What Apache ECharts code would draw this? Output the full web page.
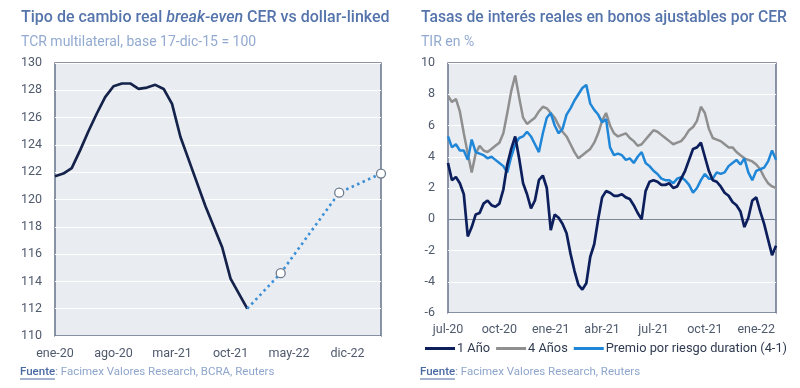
<!DOCTYPE html>
<html><head><meta charset="utf-8">
<script src="https://cdn.jsdelivr.net/npm/echarts@6/dist/echarts.min.js"></script>
<style>html,body{margin:0;padding:0;background:#fff}#c{width:800px;height:388px}</style>
</head><body><div id="c"></div><script>
// ---- Left chart: TCR break-even ----
const tcrMonths = ['ene-20','feb-20','mar-20','abr-20','may-20','jun-20','jul-20','ago-20','sep-20','oct-20','nov-20','dic-20',
  'ene-21','feb-21','mar-21','abr-21','may-21','jun-21','jul-21','ago-21','sep-21','oct-21','nov-21','dic-21',
  'ene-22','feb-22','mar-22','abr-22','may-22','jun-22','jul-22','ago-22','sep-22','oct-22','nov-22','dic-22',
  'ene-23','feb-23','mar-23','abr-23'];
const tcrHistory = [121.7,121.9,122.3,123.6,125.0,126.3,127.5,128.3,128.5,128.5,128.1,128.2,
  128.4,128.1,127.0,124.6,122.9,121.2,119.5,118.0,116.5,114.2,113.1,112.0];
const forecastMonths = ['dic-21','abr-22','nov-22','abr-23'];
const forecastValues = [112.0, 114.6, 120.5, 121.9];
const tcrTicks = [110,130,2];

// ---- Right chart: real rates (weekly) ----
const rateStart = '2020-06-29';
const oneYear = [3.6,2.5,2.7,2.3,1.6,-1.1,-0.5,0.3,0.4,1.0,1.2,0.9,0.8,1.0,1.9,3.5,4.5,5.3,3.9,2.3,
  1.6,0.7,1.2,2.5,2.8,2.0,-0.7,0.3,0.1,-0.3,-0.9,-2.2,-3.3,-4.2,-4.5,-4.1,-2.4,-1.6,0.0,1.4,1.8,
  1.7,1.5,1.5,1.6,1.4,1.3,0.9,0.4,0.0,1.8,2.4,2.5,2.4,2.2,2.2,2.3,2.0,2.1,2.6,3.1,3.8,
  4.5,4.6,4.9,4.0,3.1,2.5,2.4,2.1,1.7,1.5,1.1,0.9,0.5,-0.5,0.1,1.2,1.4,0.5,-0.3,-1.3,-2.3,-1.7];
const fourYear = [7.9,7.5,7.7,6.9,5.5,4.2,3.0,4.2,4.7,4.4,4.3,4.5,4.7,4.9,5.5,6.8,8.2,9.2,7.8,6.5,
  6.1,6.3,6.5,6.9,7.2,7.1,6.8,6.5,6.0,5.6,5.3,4.8,4.3,3.9,4.1,4.3,4.5,4.9,5.5,6.3,6.8,
  6.0,5.5,5.3,5.4,5.5,5.2,5.0,4.7,4.8,5.1,5.4,5.7,5.6,5.4,5.2,5.0,4.8,4.9,5.0,5.3,5.7,
  5.9,6.3,7.2,6.8,5.8,5.2,5.1,5.0,4.8,4.6,4.6,4.3,4.1,3.9,3.8,3.7,3.5,3.2,2.7,2.3,2.1,2.0];
const premium = [5.3,4.6,4.8,4.4,4.4,3.8,5.1,4.3,4.2,4.1,3.9,4.0,3.8,3.6,3.4,3.0,4.0,4.8,5.2,5.3,
  5.6,5.3,4.8,4.3,5.5,6.5,6.8,6.0,5.5,5.8,6.7,7.1,7.6,8.0,8.4,8.6,7.4,7.0,6.7,6.2,6.4,
  4.6,4.1,4.2,4.1,3.8,3.9,3.6,4.0,4.3,3.6,3.4,3.1,2.9,2.6,2.5,2.5,2.3,2.6,2.7,2.5,2.2,
  1.7,2.0,2.5,2.9,2.6,2.6,3.0,2.9,3.0,3.4,3.6,3.8,3.5,3.9,3.0,2.5,3.1,3.2,3.3,3.7,4.4,3.8];
const seriesNames = ['1 Año','4 Años','Premio por riesgo duration (4-1)'];
const rateTicks = [-6,10,2];
const monthAbbr = ['ene','feb','mar','abr','may','jun','jul','ago','sep','oct','nov','dic'];

// weekly category dates
const rateDates = [];
{
  const d0 = new Date(rateStart + 'T00:00:00Z');
  for (let i = 0; i < oneYear.length; i++) {
    const d = new Date(d0.getTime() + i * 7 * 86400000);
    rateDates.push(d.toISOString().slice(0,10));
  }
}
function quarterLabel(dateStr) {
  const d = new Date(dateStr + 'T00:00:00Z');
  for (let k = 0; k < 7; k++) {
    const e = new Date(d.getTime() + k * 86400000);
    if (e.getUTCDate() === 1 && e.getUTCMonth() % 3 === 0) {
      return monthAbbr[e.getUTCMonth()] + '-' + String(e.getUTCFullYear()).slice(2);
    }
  }
  return null;
}

const FONT = 'Roboto';
const axisTxt = '#4f5a6c';
const bgPlot = '#e9ecf1';
const border = '#66738a';

const chart = echarts.init(document.getElementById('c'), null, {renderer: 'canvas'});
chart.setOption({
  animation: false,
  backgroundColor: '#ffffff',
  textStyle: {fontFamily: FONT},
  title: [
    {left: 21, top: 10, padding: 0,
     text: '{a|Tipo de cambio real }{b|break-even}{a| CER vs dollar-linked}',
     textStyle: {rich: {
       a: {fontSize: 16, color: '#5574ab', fontFamily: FONT, fontWeight: 500},
       b: {fontSize: 16, color: '#5574ab', fontFamily: FONT, fontWeight: 500, fontStyle: 'italic'}}}},
    {left: 21, top: 35, padding: 0, text: 'TCR multilateral, base 17-dic-15 = 100',
     textStyle: {fontSize: 14, color: '#92aad0', fontWeight: 'normal', fontFamily: FONT}},
    {left: 421, top: 10, padding: 0, text: 'Tasas de interés reales en bonos ajustables por CER',
     textStyle: {fontSize: 15.7, color: '#5574ab', fontWeight: 500, fontFamily: FONT}},
    {left: 421, top: 35, padding: 0, text: 'TIR en %',
     textStyle: {fontSize: 14, color: '#92aad0', fontWeight: 'normal', fontFamily: FONT}}
  ],
  grid: [
    {left: 55, top: 63, width: 326, height: 273, show: true, backgroundColor: bgPlot,
     borderColor: border, borderWidth: 1.5, containLabel: false},
    {left: 448, top: 63, width: 328, height: 250, show: true, backgroundColor: bgPlot,
     borderColor: border, borderWidth: 1.5, containLabel: false}
  ],
  legend: {
    left: 425, top: 342, padding: 0, itemGap: 6, icon: 'rect', itemWidth: 30, itemHeight: 3,
    textStyle: {fontSize: 12.8, color: '#2f3a50', fontFamily: FONT, padding: [0,0,0,-3]},
    data: seriesNames
  },
  xAxis: [
    {gridIndex: 0, type: 'category', data: tcrMonths, boundaryGap: false,
     axisLine: {show: false}, axisTick: {show: false}, splitLine: {show: false},
     axisLabel: {interval: 6, color: axisTxt, fontSize: 12.5, margin: 11, fontFamily: FONT}},
    {gridIndex: 1, type: 'category', data: rateDates, boundaryGap: false,
     axisLine: {show: false}, axisTick: {show: false}, splitLine: {show: false},
     axisLabel: {interval: (i, v) => quarterLabel(v) !== null,
       formatter: (v) => quarterLabel(v) || '', color: axisTxt, fontSize: 12.5, margin: 10, fontFamily: FONT}}
  ],
  yAxis: [
    {gridIndex: 0, type: 'value', min: tcrTicks[0], max: tcrTicks[1], interval: tcrTicks[2],
     axisLine: {show: false}, axisTick: {show: false},
     splitLine: {show: true, lineStyle: {color: '#ffffff', width: 1.2}},
     axisLabel: {color: axisTxt, fontSize: 12.5, margin: 13, fontFamily: FONT}},
    {gridIndex: 1, type: 'value', min: rateTicks[0], max: rateTicks[1], interval: rateTicks[2],
     axisLine: {show: false}, axisTick: {show: false},
     splitLine: {show: true, lineStyle: {color: ['#ffffff','#ffffff','#ffffff','#7d8798','#ffffff','#ffffff','#ffffff','#ffffff','#ffffff'], width: 1.2}},
     axisLabel: {color: axisTxt, fontSize: 12.5, margin: 13, fontFamily: FONT}}
  ],
  series: [
    {type: 'line', xAxisIndex: 0, yAxisIndex: 0, data: tcrHistory, showSymbol: false,
     lineStyle: {color: '#15234b', width: 2.7}, itemStyle: {color: '#15234b'}, z: 3},
    {type: 'line', xAxisIndex: 0, yAxisIndex: 0,
     data: forecastMonths.map((m, i) => i === 0 ? {value: [m, forecastValues[i]], symbolSize: 0} : {value: [m, forecastValues[i]]}),
     symbol: 'circle', symbolSize: 9, showSymbol: true, showAllSymbol: true,
     lineStyle: {color: '#3a8fd6', width: 2.6, type: [2.5, 3.5]},
     itemStyle: {color: '#ffffff', borderColor: '#6e7b8e', borderWidth: 1.3}, z: 4},
    {name: seriesNames[1], type: 'line', xAxisIndex: 1, yAxisIndex: 1, data: fourYear, showSymbol: false,
     lineStyle: {color: '#8f8f8f', width: 2.5}, itemStyle: {color: '#8f8f8f'}, z: 2},
    {name: seriesNames[2], type: 'line', xAxisIndex: 1, yAxisIndex: 1, data: premium, showSymbol: false,
     lineStyle: {color: '#1f86d8', width: 2.5}, itemStyle: {color: '#1f86d8'}, z: 3},
    {name: seriesNames[0], type: 'line', xAxisIndex: 1, yAxisIndex: 1, data: oneYear, showSymbol: false,
     lineStyle: {color: '#0c1f5c', width: 2.7}, itemStyle: {color: '#0c1f5c'}, z: 4}
  ],
  graphic: [
    {type: 'text', left: 20, top: 366, style: {
      text: '{u|Fuente}{r|: Facimex Valores Research, BCRA, Reuters}',
      rich: {u: {fontSize: 11.5, fill: '#4a6aa3', fontFamily: FONT, fontWeight: 500},
             r: {fontSize: 11.5, fill: '#8ea6cc', fontFamily: FONT}}}},
    {type: 'line', shape: {x1: 20, y1: 379, x2: 55, y2: 379}, style: {stroke: '#4a6aa3', lineWidth: 1}},
    {type: 'text', left: 420, top: 366, style: {
      text: '{u|Fuente}{r|: Facimex Valores Research, Reuters}',
      rich: {u: {fontSize: 11.5, fill: '#4a6aa3', fontFamily: FONT, fontWeight: 500},
             r: {fontSize: 11.5, fill: '#8ea6cc', fontFamily: FONT}}}},
    {type: 'line', shape: {x1: 420, y1: 379, x2: 455, y2: 379}, style: {stroke: '#4a6aa3', lineWidth: 1}}
  ]
});
</script></body></html>
